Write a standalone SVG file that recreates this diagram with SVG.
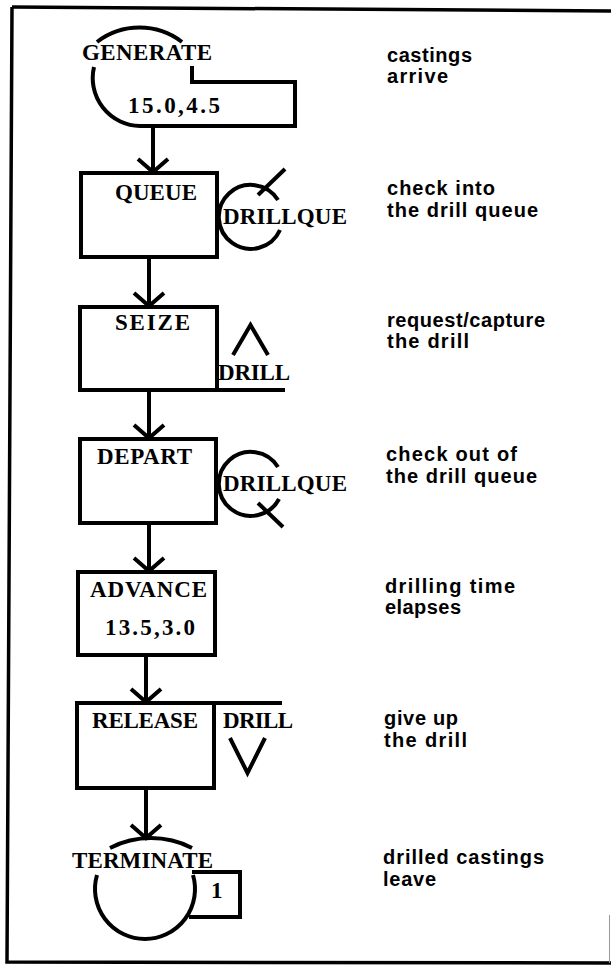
<svg xmlns="http://www.w3.org/2000/svg" width="611" height="966" viewBox="0 0 611 966">
<style>
.ln{fill:none;stroke:#000;stroke-width:4;stroke-linejoin:miter;stroke-linecap:butt}
.lbl{font-family:"Liberation Serif","Times New Roman",serif;font-weight:bold;font-size:23px;fill:#000}
.num{font-family:"Liberation Serif","Times New Roman",serif;font-weight:bold;font-size:23px;fill:#000}
.res{font-family:"Liberation Serif","Times New Roman",serif;font-weight:bold;font-size:23px;fill:#000}
.note{font-family:"Liberation Sans",Arial,sans-serif;font-weight:bold;font-size:20px;fill:#000}
</style>
<defs>
<marker id="chev" markerUnits="userSpaceOnUse" markerWidth="40" markerHeight="40" refX="0" refY="0" orient="auto" overflow="visible">
<path d="M-13,-15 L0,0 L-13,15" fill="none" stroke="#000" stroke-width="4"/>
</marker>
</defs>
<rect width="611" height="966" fill="#fff"/>
<g id="frame">
<path d="M12,7 L611,11" fill="none" stroke="#000" stroke-width="3.5"/>
<path d="M12,7 L7,962 L611,963" fill="none" stroke="#000" stroke-width="3.5"/>
<path d="M609.5,915 L609.5,963" fill="none" stroke="#999" stroke-width="1"/>
</g>
<g id="connectors">
<line class="ln" x1="153" y1="127" x2="153" y2="172" marker-end="url(#chev)"/>
<line class="ln" x1="149" y1="257" x2="149" y2="306" marker-end="url(#chev)"/>
<line class="ln" x1="149" y1="390" x2="149" y2="438" marker-end="url(#chev)"/>
<line class="ln" x1="149" y1="523" x2="149" y2="571" marker-end="url(#chev)"/>
<line class="ln" x1="146" y1="655" x2="146" y2="702" marker-end="url(#chev)"/>
<line class="ln" x1="146" y1="788" x2="146" y2="838" marker-end="url(#chev)"/>
</g>
<g id="generate">
<path class="ln" d="M97,42 A70,70 0 0 1 182,42"/>
<path class="ln" d="M94,67 A48,48 0 0 0 140,126 L295,126 L295,82 L192,82 L192,66"/>
<text class="lbl" x="82" y="60" textLength="130" lengthAdjust="spacing">GENERATE</text>
<text class="num" x="128" y="113" textLength="92" lengthAdjust="spacing">15.0,4.5</text>
</g>
<g id="queue">
<rect class="ln" x="81" y="173" width="136" height="84"/>
<text class="lbl" x="115" y="200" textLength="82" lengthAdjust="spacing">QUEUE</text>
<path class="ln" d="M278,200 A32,32 0 1 0 280,230"/>
<line class="ln" x1="258" y1="195" x2="285" y2="169"/>
<text class="res" x="223" y="224" textLength="124" lengthAdjust="spacing">DRILLQUE</text>
</g>
<g id="seize">
<rect class="ln" x="80" y="307" width="137" height="83"/>
<line class="ln" x1="217" y1="390" x2="285" y2="390"/>
<text class="lbl" x="115" y="330" textLength="75" lengthAdjust="spacing">SEIZE</text>
<path class="ln" d="M233,355 L250.5,325 L268,355"/>
<text class="res" x="218" y="380" textLength="72" lengthAdjust="spacing">DRILL</text>
</g>
<g id="depart">
<rect class="ln" x="80" y="439" width="136" height="84"/>
<text class="lbl" x="97" y="464" textLength="95" lengthAdjust="spacing">DEPART</text>
<path class="ln" d="M278,467 A32,32 0 1 0 279,499"/>
<line class="ln" x1="258" y1="503" x2="283" y2="527"/>
<text class="res" x="223" y="491" textLength="124" lengthAdjust="spacing">DRILLQUE</text>
</g>
<g id="advance">
<rect class="ln" x="78" y="572" width="137" height="83"/>
<text class="lbl" x="90" y="597" textLength="117" lengthAdjust="spacing">ADVANCE</text>
<text class="num" x="105" y="635" textLength="90" lengthAdjust="spacing">13.5,3.0</text>
</g>
<g id="release">
<rect class="ln" x="77" y="703" width="137" height="85"/>
<line class="ln" x1="214" y1="703" x2="282" y2="703"/>
<text class="lbl" x="92" y="728" textLength="106" lengthAdjust="spacing">RELEASE</text>
<text class="res" x="223" y="728" textLength="70" lengthAdjust="spacing">DRILL</text>
<path class="ln" d="M230,738 L247.5,773 L265,738"/>
</g>
<g id="terminate">
<path class="ln" d="M110,848 A90,90 0 0 1 192,848"/>
<path class="ln" d="M97,875 A50,50 0 1 0 193,875"/>
<path class="ln" d="M192,872 L240,872 L240,917 L189,917"/>
<text class="lbl" x="72" y="868" textLength="141" lengthAdjust="spacing">TERMINATE</text>
<text class="lbl" x="211" y="898">1</text>
</g>
<g id="notes">
<text class="note" x="387" y="62" textLength="85" lengthAdjust="spacing">castings</text>
<text class="note" x="387" y="83" textLength="61" lengthAdjust="spacing">arrive</text>
<text class="note" x="387" y="195" textLength="108" lengthAdjust="spacing">check into</text>
<text class="note" x="387" y="217" textLength="151" lengthAdjust="spacing">the drill queue</text>
<text class="note" x="387" y="327" textLength="158" lengthAdjust="spacing">request/capture</text>
<text class="note" x="387" y="348" textLength="82" lengthAdjust="spacing">the drill</text>
<text class="note" x="386" y="461" textLength="131" lengthAdjust="spacing">check out of</text>
<text class="note" x="386" y="483" textLength="151" lengthAdjust="spacing">the drill queue</text>
<text class="note" x="385" y="593" textLength="130" lengthAdjust="spacing">drilling time</text>
<text class="note" x="385" y="614" textLength="76" lengthAdjust="spacing">elapses</text>
<text class="note" x="384" y="725" textLength="74" lengthAdjust="spacing">give up</text>
<text class="note" x="384" y="747" textLength="83" lengthAdjust="spacing">the drill</text>
<text class="note" x="383" y="864" textLength="161" lengthAdjust="spacing">drilled castings</text>
<text class="note" x="383" y="886" textLength="53" lengthAdjust="spacing">leave</text>
</g>
</svg>
